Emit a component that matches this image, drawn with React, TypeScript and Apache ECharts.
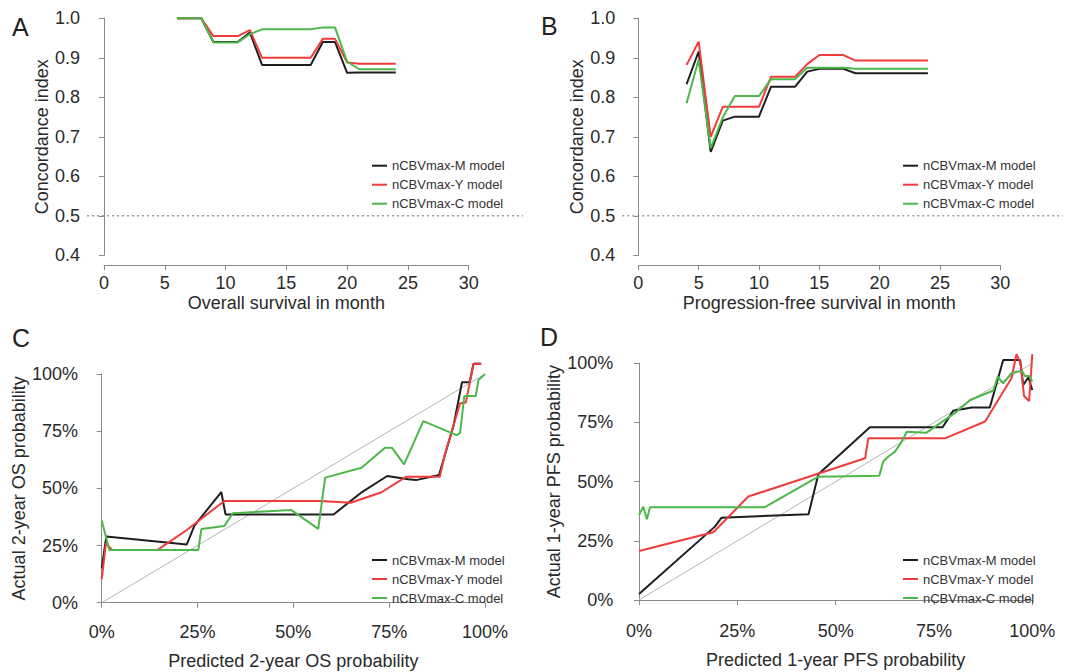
import React, { useEffect, useRef } from "react";
import * as echarts from "echarts";

// ---------- Data ----------
const MODEL_NAMES = ["nCBVmax-M model", "nCBVmax-Y model", "nCBVmax-C model"];

// Panel A: time-dependent C-index, overall survival
const monthsA = [6, 8, 9, 11, 12, 13, 17, 18, 19, 20, 21, 24];
const cindexA_M = [1.0, 1.0, 0.94, 0.94, 0.964, 0.882, 0.882, 0.94, 0.94, 0.862, 0.863, 0.863];
const cindexA_Y = [1.0, 1.0, 0.955, 0.955, 0.97, 0.9, 0.9, 0.948, 0.948, 0.888, 0.885, 0.885];
const cindexA_C = [1.0, 1.0, 0.939, 0.939, 0.96, 0.972, 0.972, 0.977, 0.977, 0.89, 0.871, 0.871];

// Panel B: time-dependent C-index, progression-free survival
const monthsB = [4, 5, 6, 7, 8, 10, 11, 13, 14, 15, 17, 18, 24];
const cindexB_M = [0.833, 0.916, 0.662, 0.741, 0.751, 0.751, 0.827, 0.827, 0.865, 0.872, 0.872, 0.861, 0.861];
const cindexB_Y = [0.882, 0.941, 0.7, 0.776, 0.776, 0.776, 0.852, 0.852, 0.884, 0.907, 0.907, 0.893, 0.893];
const cindexB_C = [0.785, 0.895, 0.671, 0.749, 0.803, 0.803, 0.846, 0.846, 0.875, 0.875, 0.875, 0.872, 0.872];

const REFERENCE_CINDEX = 0.5;

// Panel C: calibration, 2-year OS  [predicted %, actual %]
const calibC_M = [
  [0, 15.0], [1.2, 28.9], [22.2, 25.5], [24.2, 33.7], [31.2, 48.4], [32.3, 38.6], [60.5, 38.6],
  [68, 48.5], [74.5, 55.4], [80, 54.0], [82, 53.6], [88, 55.8], [91.8, 77.5], [94, 96.4],
  [96, 96.4], [97, 104.5], [99, 104.5],
];
const calibC_Y = [
  [0, 10.2], [1.1, 26], [2.8, 23.0], [14.5, 23.0], [22.2, 31.8], [32, 44.5], [57, 44.5],
  [65, 43.7], [73, 48.3], [79.5, 55.1], [88.2, 55.1], [89.6, 65.3], [93.5, 87.2], [95, 87.5],
  [97, 104.5], [99, 104.5],
];
const calibC_C = [
  [0, 35.9], [2, 23.0], [25.2, 23.0], [26, 32.2], [32, 33.5], [34.2, 39.1], [49.5, 40.5],
  [56.5, 32.3], [58.3, 54.7], [67.8, 59.0], [73.9, 67.8], [75.7, 67.8], [78.9, 60.5],
  [83.9, 79.4], [92.6, 73.3], [93.5, 74.1], [94.6, 90.4], [97.6, 90.4], [98.3, 97.4], [100, 100],
];

// Panel D: calibration, 1-year PFS  [predicted %, actual %]
const calibD_M = [
  [0, 2.5], [19.3, 31.0], [21, 34.8], [43.1, 36.2], [45.6, 53.1], [58.7, 73.0], [77.2, 73.0],
  [79.9, 80.0], [84.6, 81.3], [89.2, 81.3], [92.6, 101.4], [96.9, 101.4], [97.7, 90.8],
  [99, 94.1], [100, 88.7],
];
const calibD_Y = [
  [0, 20.7], [18.9, 28.6], [27.8, 43.7], [57.5, 59.9], [58.3, 68.3], [77.8, 68.3], [88, 75.4],
  [92.6, 88], [94.7, 93.7], [96, 103.9], [97, 100], [97.9, 86.2], [99.2, 84.1], [100, 103.9],
];
const calibD_C = [
  [0, 35.9], [1.1, 39.4], [2, 34.1], [2.8, 39.2], [32, 39.2], [45.6, 52.1], [61.1, 52.5],
  [62.1, 58.5], [63.4, 60.6], [65.1, 62.7], [66.8, 66.9], [68.1, 71.1], [73.1, 70.7],
  [80.8, 79.6], [84.2, 84.5], [90.1, 88.5], [91.2, 94.4], [92.6, 91.5], [94.7, 95.8],
  [96, 96.5], [97.5, 96.5], [98.1, 94.6], [99.2, 94.6], [100, 92.3],
];

const IDEAL_LINE = [[0, 0], [100, 100]];

// ---------- Styles ----------
const COLORS = ["#1e1e1e", "#ef3b3b", "#4cb849"];
const FONT = "'Liberation Sans', Arial, Helvetica, sans-serif";
const TEXT_COLOR = "#2a2a2a";
const AXIS_COLOR = "#8a8a8a";

const zip = (xs: number[], ys: number[]) => xs.map((x, i) => [x, ys[i]]);

function xAxisCfg(gridIndex: number, opts: any) {
  return {
    type: "value",
    gridIndex,
    min: opts.min,
    max: opts.max,
    interval: opts.interval,
    offset: opts.offset,
    name: opts.name,
    nameLocation: "middle",
    nameGap: opts.nameGap,
    nameTextStyle: { fontSize: 18, color: TEXT_COLOR, fontFamily: FONT },
    axisLine: { show: true, lineStyle: { color: AXIS_COLOR, width: 1 } },
    axisTick: { show: true, length: 5, lineStyle: { color: AXIS_COLOR } },
    axisLabel: {
      fontSize: 18,
      color: TEXT_COLOR,
      fontFamily: FONT,
      margin: opts.labelMargin,
      formatter: opts.formatter,
      showMinLabel: true,
      showMaxLabel: true,
    },
    splitLine: { show: false },
  };
}

function yAxisCfg(gridIndex: number, opts: any) {
  return {
    type: "value",
    gridIndex,
    min: opts.min,
    max: opts.max,
    interval: opts.interval,
    offset: opts.offset,
    name: opts.name,
    nameLocation: "middle",
    nameGap: opts.nameGap,
    nameTextStyle: { fontSize: 18, color: TEXT_COLOR, fontFamily: FONT },
    axisLine: { show: true, lineStyle: { color: AXIS_COLOR, width: 1 } },
    axisTick: { show: true, length: 5, lineStyle: { color: AXIS_COLOR } },
    axisLabel: {
      fontSize: 18,
      color: TEXT_COLOR,
      fontFamily: FONT,
      margin: opts.labelMargin,
      formatter: opts.formatter,
      showMinLabel: true,
      showMaxLabel: true,
    },
    splitLine: { show: false },
  };
}

function hiddenAxis(gridIndex: number, min: number, max: number) {
  return { type: "value", gridIndex, min, max, show: false, splitLine: { show: false } };
}

function modelSeries(axisIndex: number, datasets: number[][][]) {
  return datasets.map((d, i) => ({
    type: "line",
    name: MODEL_NAMES[i],
    xAxisIndex: axisIndex,
    yAxisIndex: axisIndex,
    data: d,
    showSymbol: false,
    symbol: "none",
    clip: false,
    color: COLORS[i],
    lineStyle: { color: COLORS[i], width: 2 },
    z: 3 + i,
  }));
}

function legendCfg(left: number, top: number) {
  return {
    data: MODEL_NAMES,
    orient: "vertical",
    left,
    top,
    padding: 0,
    itemGap: 5,
    itemWidth: 15,
    itemHeight: 2,
    icon: "rect",
    selectedMode: false,
    textStyle: { fontSize: 13, color: "#333", fontFamily: FONT, lineHeight: 14 },
  };
}

export default function App() {
  const ref = useRef<HTMLDivElement>(null);

  useEffect(() => {
    if (!ref.current) return;
    const chart = echarts.init(ref.current, undefined, { renderer: "svg" });

    const pct = "{value}%";
    const oneDec = (v: number) => v.toFixed(1);

    const option: any = {
      animation: false,
      backgroundColor: "#ffffff",
      grid: [
        { left: 104, right: 596.3, top: 18.3, bottom: 416.7 }, // A
        { left: 638.3, right: 64.7, top: 18.3, bottom: 416.7 }, // B
        { left: 101.7, right: 580, top: 374, bottom: 69.3 }, // C
        { left: 639, right: 32.7, top: 363.3, bottom: 72 }, // D
        { left: 87, right: 542, top: 18.3, bottom: 416.7 }, // A reference line
        { left: 622.3, right: 2, top: 18.3, bottom: 416.7 }, // B reference line
      ],
      xAxis: [
        xAxisCfg(0, { min: 0, max: 30, interval: 5, offset: 10, name: "Overall survival in month", nameGap: 29, labelMargin: 9 }),
        xAxisCfg(1, { min: 0, max: 30, interval: 5, offset: 10, name: "Progression-free survival in month", nameGap: 29, labelMargin: 9 }),
        xAxisCfg(2, { min: 0, max: 100, interval: 25, offset: 10, name: "Predicted 2-year OS probability", nameGap: 39, labelMargin: 10, formatter: pct }),
        xAxisCfg(3, { min: 0, max: 100, interval: 25, offset: 10, name: "Predicted 1-year PFS probability", nameGap: 41, labelMargin: 12, formatter: pct }),
        hiddenAxis(4, 0, 1),
        hiddenAxis(5, 0, 1),
      ],
      yAxis: [
        yAxisCfg(0, { min: 0.4, max: 1.0, interval: 0.1, offset: 17, name: "Concordance index", nameGap: 30, labelMargin: 7, formatter: oneDec }),
        yAxisCfg(1, { min: 0.4, max: 1.0, interval: 0.1, offset: 16, name: "Concordance index", nameGap: 36, labelMargin: 7, formatter: oneDec }),
        yAxisCfg(2, { min: 0, max: 100, interval: 25, offset: 15.7, name: "Actual 2-year OS probability", nameGap: 58, labelMargin: 8, formatter: pct }),
        yAxisCfg(3, { min: 0, max: 100, interval: 25, offset: 16.7, name: "Actual 1-year PFS probability", nameGap: 56, labelMargin: 9, formatter: pct }),
        hiddenAxis(4, 0.4, 1.0),
        hiddenAxis(5, 0.4, 1.0),
      ],
      legend: [
        legendCfg(372, 158.7),
        legendCfg(903, 158.7),
        legendCfg(372, 553),
        legendCfg(903, 553),
      ],
      graphic: [
        { type: "text", left: 12, top: 14, style: { text: "A", fontSize: 25, fill: "#222", fontFamily: FONT } },
        { type: "text", left: 541, top: 13, style: { text: "B", fontSize: 25, fill: "#222", fontFamily: FONT } },
        { type: "text", left: 12, top: 325, style: { text: "C", fontSize: 25, fill: "#222", fontFamily: FONT } },
        { type: "text", left: 540, top: 324, style: { text: "D", fontSize: 25, fill: "#222", fontFamily: FONT } },
      ],
      series: [
        {
          type: "line",
          name: "refA",
          xAxisIndex: 4,
          yAxisIndex: 4,
          data: [[0, REFERENCE_CINDEX], [1, REFERENCE_CINDEX]],
          showSymbol: false,
          symbol: "none",
          lineStyle: { color: "#9a9a9a", width: 1.5, type: [2, 3] },
          z: 1,
        },
        {
          type: "line",
          name: "refB",
          xAxisIndex: 5,
          yAxisIndex: 5,
          data: [[0, REFERENCE_CINDEX], [1, REFERENCE_CINDEX]],
          showSymbol: false,
          symbol: "none",
          lineStyle: { color: "#9a9a9a", width: 1.5, type: [2, 3] },
          z: 1,
        },
        {
          type: "line",
          name: "idealC",
          xAxisIndex: 2,
          yAxisIndex: 2,
          data: IDEAL_LINE,
          showSymbol: false,
          symbol: "none",
          lineStyle: { color: "#b5b5b5", width: 1 },
          z: 1,
        },
        {
          type: "line",
          name: "idealD",
          xAxisIndex: 3,
          yAxisIndex: 3,
          data: IDEAL_LINE,
          showSymbol: false,
          symbol: "none",
          lineStyle: { color: "#b5b5b5", width: 1 },
          z: 1,
        },
        ...modelSeries(0, [zip(monthsA, cindexA_M), zip(monthsA, cindexA_Y), zip(monthsA, cindexA_C)]),
        ...modelSeries(1, [zip(monthsB, cindexB_M), zip(monthsB, cindexB_Y), zip(monthsB, cindexB_C)]),
        ...modelSeries(2, [calibC_M, calibC_Y, calibC_C]),
        ...modelSeries(3, [calibD_M, calibD_Y, calibD_C]),
      ],
    };

    chart.setOption(option);
    return () => chart.dispose();
  }, []);

  return (
    <div
      ref={ref}
      style={{ position: "absolute", left: 0, top: 0, width: 1065, height: 672, background: "#fff" }}
    />
  );
}
